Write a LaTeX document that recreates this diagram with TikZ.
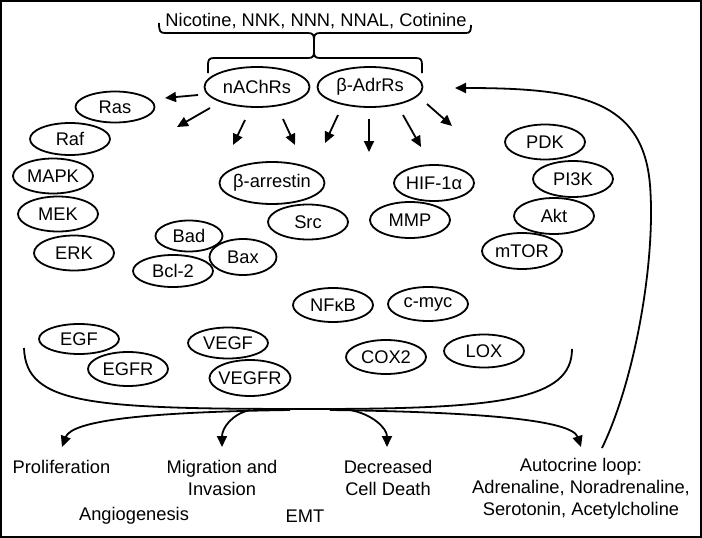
\documentclass[tikz,border=0pt]{standalone}
\usepackage{fontspec}
\setmainfont{Liberation Sans}
\usetikzlibrary{shapes.geometric,arrows.meta}
\begin{document}
\begin{tikzpicture}[x=1pt,y=-1pt,
  every node/.style={font=\fontsize{18.3}{22}\selectfont},
  el/.style={ellipse,draw,line width=1.8pt,inner sep=0pt,minimum width=80pt,minimum height=35pt},
  arr/.style={line width=1.8pt,-{Triangle[length=11pt,width=10pt]}},
  ln/.style={line width=1.8pt},
  txt/.style={inner sep=0pt,align=center}]
\useasboundingbox (0,0) rectangle (702,538);
\draw[line width=2pt] (1,1) rectangle (701,537);

% top label and braces
\node[txt] (chem) at (316,21) {Nicotine, NNK, NNN, NNAL, Cotinine};
\draw[ln] (159,23) .. controls (159,31) and (160,33) .. (165,33) -- (308,33) .. controls (313,33) and (314,35) .. (314,40) -- (314,52)
  .. controls (314,56) and (313,58) .. (308,58) -- (214,58) .. controls (209,58) and (208,60) .. (208,65) -- (208,73);
\draw[ln] (471,25) .. controls (471,31) and (470,33) .. (466,33) -- (320,33) .. controls (315,33) and (314,35) .. (314,40);
\draw[ln] (314,52) .. controls (314,56) and (315,58) .. (320,58) -- (416,58) .. controls (421,58) and (422,60) .. (422,65) -- (422,73);

% receptors
\node[el,minimum width=105pt,minimum height=40pt] (nA) at (257,87) {nAChRs};
\node[el,minimum width=105pt,minimum height=40pt] (bA) at (370,87) {β-AdrRs};

% left cluster
\node[el,minimum width=79pt,minimum height=31pt] (ras) at (115,107) {Ras};
\node[el,minimum height=32pt] (raf) at (70,139) {Raf};
\node[el] (mapk) at (53,176) {MAPK};
\node[el] (mek) at (58,214) {MEK};
\node[el] (erk) at (74,253) {ERK};

% middle
\node[el,minimum width=105pt,minimum height=42pt,inner xsep=-2pt] (barr) at (272,183) {β-arrestin};
\node[el] (src) at (308,222) {Src};
\node[el,minimum width=67pt,minimum height=31pt] (bad) at (189,236) {Bad};
\node[el,minimum width=67pt,minimum height=36pt] (bax) at (243,257) {Bax};
\node[el,minimum height=32pt] (bcl) at (173,271) {Bcl-2};
\node[el,minimum height=36pt] (hif) at (434,183) {HIF-1α};
\node[el,minimum height=36pt] (mmp) at (410,220) {MMP};

% right cluster
\node[el] (pdk) at (545,142) {PDK};
\node[el,minimum height=36pt] (pi3k) at (573,179) {PI3K};
\node[el,minimum height=36pt] (akt) at (554,216) {Akt};
\node[el,minimum height=36pt] (mtor) at (522,251) {mTOR};

% lower
\node[el,minimum height=34pt] (nfkb) at (333,305) {NFκB};
\node[el,minimum height=34pt] (cmyc) at (428,304) {c-myc};
\node[el,minimum height=30pt] (egf) at (79,339) {EGF};
\node[el,minimum height=34pt] (egfr) at (128,369) {EGFR};
\node[el,minimum height=31pt] (vegf) at (228,343) {VEGF};
\node[el,minimum width=81pt,minimum height=36pt,inner xsep=-4pt] (vegfr) at (250,378) {VEGFR};
\node[el,minimum height=34pt] (cox) at (386,357) {COX2};
\node[el,minimum height=33pt] (lox) at (484,351) {LOX};

% receptor arrows
\coordinate (e1) at (198,95);  \coordinate (e2) at (165,98);
\coordinate (f1) at (210,108); \coordinate (f2) at (177,127);
\coordinate (g1) at (245,120); \coordinate (g2) at (233,145);
\coordinate (h1) at (283,119); \coordinate (h2) at (295,145);
\coordinate (a1) at (338,115); \coordinate (a2) at (325,143);
\coordinate (b1) at (369,119); \coordinate (b2) at (369,152);
\coordinate (c1) at (403,115); \coordinate (c2) at (421,147);
\coordinate (d1) at (427,104); \coordinate (d2) at (452,126);
\foreach \p in {e,f,g,h,a,b,c,d} {\draw[arr] (\p1) -- (\p2);}

% feedback loop
\coordinate (fb0) at (602,448);
\coordinate (fb1) at (455,88);
\draw[arr] (fb0) .. controls (635,380) and (656,260) .. (650,185) .. controls (643,100) and (580,88) .. (fb1);

% bottom bracket
\draw[ln] (24,348) .. controls (26,405) and (90,409) .. (313,409) .. controls (500,409) and (572,400) .. (572,349);

% outcome arrows
\coordinate (o1) at (290,410); \coordinate (t1) at (62,447);
\coordinate (o2) at (250,410); \coordinate (t2) at (222,447);
\coordinate (o3) at (350,410); \coordinate (t3) at (387,447);
\coordinate (o4) at (330,410); \coordinate (t4) at (581,447);
\draw[arr] (o1) .. controls (150,412) and (72,420) .. (t1);
\draw[arr] (o2) .. controls (232,414) and (222,428) .. (t2);
\draw[arr] (o3) .. controls (372,414) and (387,428) .. (t3);
\draw[arr] (o4) .. controls (480,412) and (572,420) .. (t4);

% outcome labels
\node[txt] (prolif) at (61.5,467) {Proliferation};
\node[txt] (migr) at (222,478) {Migration and\\Invasion};
\node[txt] (decr) at (388,478) {Decreased\\Cell Death};
\node[txt] (auto) at (581,489) {Autocrine loop:\\Adrenaline, Noradrenaline,\\Serotonin, Acetylcholine};
\node[txt] (angio) at (134,516) {Angiogenesis};
\node[txt] (emt) at (305,516) {EMT};
\end{tikzpicture}
\end{document}
